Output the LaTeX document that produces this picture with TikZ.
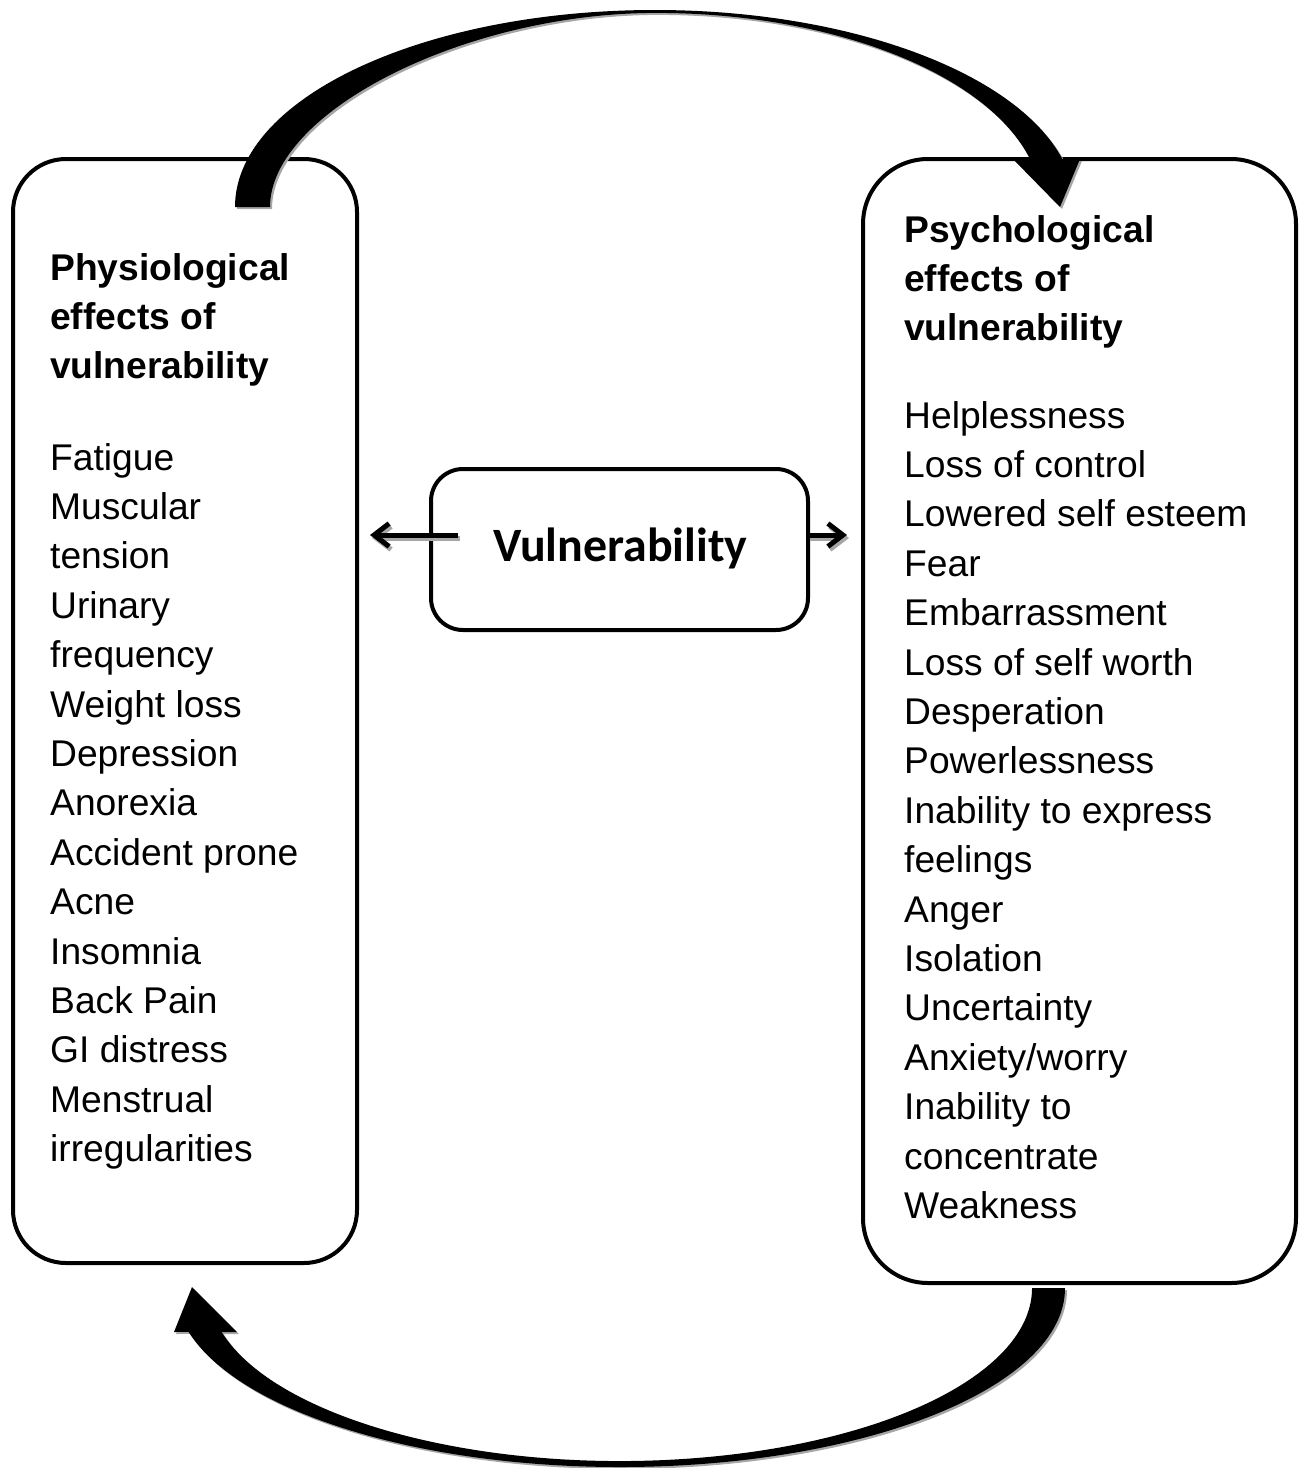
\documentclass[tikz,border=0pt]{standalone}
\usepackage{fontspec}
\setmainfont{Liberation Sans}
\newfontfamily\calibrifont{Carlito}
\usetikzlibrary{arrows.meta}
\newcommand\toparrowshape[1]{%
  \fill[#1] (235,-207) arc[start angle=180, end angle=14.1, x radius=420, y radius=197]
    -- (1080,-159) -- (1060,-207) -- (1013,-159) -- (1030,-159)
    arc[start angle=14.3, end angle=90, x radius=386, y radius=194]
    .. controls (465,-13) and (270,-112) .. (270,-207) -- cycle;}
\newcommand\botarrowshape[1]{%
  \fill[#1] (1065,-1288) arc[start angle=0, end angle=-165.8, x radius=445, y radius=179]
    -- (174,-1332) -- (192,-1287) -- (237,-1332) -- (221.6,-1332)
    arc[start angle=-165.27, end angle=0, x radius=412, y radius=173] -- cycle;}
\begin{document}
\begin{tikzpicture}[x=1pt,y=1pt,
  box/.style={draw=black, line width=4pt, inner sep=0pt},
  txt/.style={anchor=base west, inner sep=0pt, font=\fontsize{37.2}{44}\selectfont},
  ttl/.style={anchor=base west, inner sep=0pt, font=\fontsize{37.2}{44}\selectfont\bfseries},
  shadowcol/.style={black!35},
  smallarrow/.style={line width=5pt, -{Straight Barb[length=15pt,width=23pt]}},
]
\useasboundingbox (0,0) rectangle (1307,-1468);

% boxes
\node[box, rounded corners=53pt, minimum width=344pt, minimum height=1104pt] (phys) at (185,-711) {};
\node[box, rounded corners=65pt, minimum width=433pt, minimum height=1124pt] (psych) at (1079.5,-721) {};
\node[box, rounded corners=32pt, minimum width=377pt, minimum height=161pt, fill=white] (vul) at (619.5,-549.5) {};
\node[anchor=base west, inner sep=0pt, font=\calibrifont\bfseries\fontsize{47.9}{50}\selectfont] (vultxt) at (493,-561) {Vulnerability};

% left text
\foreach \t [count=\i] in {Physiological, effects of, vulnerability}
  \node[ttl] (lt\i) at (50,{-280-(\i-1)*49.4}) {\t};
\foreach \t [count=\i] in {Fatigue, Muscular, tension, Urinary, frequency, Weight loss, Depression, Anorexia, Accident prone, Acne, Insomnia, Back Pain, GI distress, Menstrual, irregularities}
  \node[txt] (lb\i) at (50,{-470-(\i-1)*49.4}) {\t};

% right text
\foreach \t [count=\i] in {Psychological, effects of, vulnerability}
  \node[ttl] (rt\i) at (904,{-242-(\i-1)*49.4}) {\t};
\foreach \t [count=\i] in {Helplessness, Loss of control, Lowered self esteem, Fear, Embarrassment, Loss of self worth, Desperation, Powerlessness, Inability to express, feelings, Anger, Isolation, Uncertainty, Anxiety/worry, Inability to, concentrate, Weakness}
  \node[txt] (rb\i) at (904,{-428-(\i-1)*49.4}) {\t};

% big curved arrows with shadow
\begin{scope}[shift={(2,-2)}]
  \toparrowshape{shadowcol}
  \botarrowshape{shadowcol}
\end{scope}
\toparrowshape{black}
\botarrowshape{black}

% small arrows
\coordinate (laS) at (458,-535);
\coordinate (laE) at (370,-535);
\coordinate (raS) at (808,-535);
\coordinate (raE) at (847,-535);
\draw[smallarrow, shadowcol] ([shift={(2,-3)}]laS) -- ([shift={(2,-3)}]laE);
\draw[smallarrow, shadowcol] ([shift={(2,-3)}]raS) -- ([shift={(2,-3)}]raE);
\draw[smallarrow] (laS) -- (laE);
\draw[smallarrow] (raS) -- (raE);
\end{tikzpicture}
\end{document}
